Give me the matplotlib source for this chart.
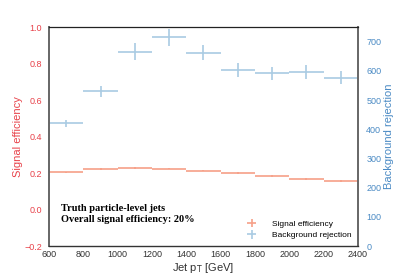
import numpy as np
import matplotlib
matplotlib.use("Agg")
import matplotlib.pyplot as plt

plt.rcParams['font.family'] = ['Liberation Sans', 'DejaVu Sans']

# bin edges in jet pT [GeV]
bin_edges = [600, 800, 1000, 1200, 1400, 1600, 1800, 2000, 2200, 2400]
sig_eff = [0.204, 0.222, 0.229, 0.224, 0.213, 0.200, 0.185, 0.167, 0.156]
sig_err = [0.004, 0.004, 0.004, 0.004, 0.004, 0.004, 0.004, 0.004, 0.004]
bkg_rej = [420, 530, 665, 715, 663, 603, 592, 597, 577]
bkg_err = [13, 18, 29, 30, 25, 24, 23, 23, 22]

edges = np.array(bin_edges)
centers = (edges[:-1] + edges[1:]) / 2
half = (edges[1:] - edges[:-1]) / 2

sig_color = '#f6a088'
bkg_color = '#a9cbe3'
red = '#e8424a'
blue = '#4a8ac4'

fig = plt.figure(figsize=(3.99, 2.74), dpi=100)
ax = fig.add_axes([0.123, 0.102, 0.774, 0.799])
ax2 = ax.twinx()

h1 = ax.errorbar(centers, sig_eff, xerr=half, yerr=sig_err, fmt='none',
                 ecolor=sig_color, elinewidth=1.2, label='Signal efficiency')
h2 = ax2.errorbar(centers, bkg_rej, xerr=half, yerr=bkg_err, fmt='none',
                  ecolor=bkg_color, elinewidth=1.2, label='Background rejection')

ax.set_xlim(600, 2400)
ax.set_ylim(-0.2, 1.0)
ax2.set_ylim(0, 750)
ax.set_xticks(np.arange(600, 2401, 200))
ax.set_yticks(np.arange(-0.2, 1.01, 0.2))
ax2.set_yticks(np.arange(0, 701, 100))

ax.tick_params(axis='x', labelsize=6.5, length=0, pad=3, colors='#333333')
ax.tick_params(axis='y', labelsize=6.5, length=0, pad=5, colors=red)
ax2.tick_params(axis='y', labelsize=6.5, length=0, pad=6, colors=blue)

ax.set_xlabel('Jet p$_\\mathrm{T}$ [GeV]', fontsize=8, color='#333333', labelpad=1)
ax.set_ylabel('Signal efficiency', fontsize=8, color=red, labelpad=1)
ax2.set_ylabel('Background rejection', fontsize=8, color=blue, labelpad=2)

for a in (ax, ax2):
    for s in a.spines.values():
        s.set_visible(False)
ax2.spines['top'].set_visible(True)
ax2.spines['top'].set_color('#222222')
ax2.spines['top'].set_linewidth(0.9)
for side in ('left', 'right', 'bottom'):
    ax2.spines[side].set_visible(True)
    ax2.spines[side].set_color('#666666')
    ax2.spines[side].set_linewidth(1.4)
ax2.spines['bottom'].set_color('#333333')
ax2.spines['bottom'].set_linewidth(1.0)

ax.text(0.039, 0.19, 'Truth particle-level jets\nOverall signal efficiency: 20%',
        transform=ax.transAxes, fontsize=7.5, fontweight='bold',
        family=['Liberation Serif', 'DejaVu Serif'], va='top', ha='left',
        linespacing=1.25)

ax2.legend([h1, h2], ['Signal efficiency', 'Background rejection'],
           loc='lower right', fontsize=6, frameon=False, handlelength=1.2,
           handletextpad=1.8, borderaxespad=0.4, labelspacing=0.4)

fig.savefig('out.png', dpi=100)
